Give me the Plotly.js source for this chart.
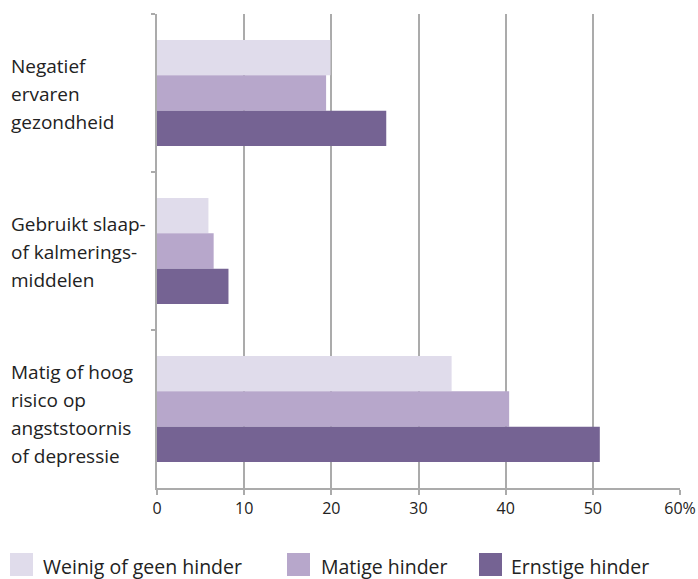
<!DOCTYPE html>
<html><head><meta charset="utf-8">
<script src="https://cdn.plot.ly/plotly-3.0.1.min.js"></script>
<style>html,body{margin:0;padding:0;background:#fff}#chart{width:698px;height:579px}</style>
</head><body><div id="chart"></div>
<script>
const categories = ["Negatief<br>ervaren<br>gezondheid", "Gebruikt slaap-<br>of kalmerings-<br>middelen", "Matig of hoog<br>risico op<br>angststoornis<br>of depressie"];
const seriesNames = ["Weinig of geen hinder", "Matige hinder", "Ernstige hinder"];
const weinig = [19.9, 5.9, 33.8];
const matig = [19.4, 6.5, 40.4];
const ernstig = [26.3, 8.2, 50.8];
const xTickVals = [0, 10, 20, 30, 40, 50, 60];
const xTickText = ["0", "10", "20", "30", "40", "50", "60%"];

const colors = ["#E0DCEB", "#B7A7CB", "#756393"];
const FONT = "Open Sans, DejaVu Sans, sans-serif";
const W = 698, H = 579;
const L = 157, R = 18, T = 14, B = 91;
const pw = W - L - R, ph = H - T - B;
const px = v => (v - L) / pw;
const py = v => (H - B - v) / ph;

const values = [weinig, matig, ernstig];
const traces = values.map((vals, k) => ({
  type: "bar", orientation: "h",
  x: vals, y: categories,
  name: seriesNames[k],
  marker: {color: colors[k], line: {width: 0}},
  showlegend: false, hoverinfo: "x"
}));

const annotations = [];
categories.forEach((lab, i) => {
  const lines = lab.split("<br>");
  const n = lines.length;
  lines.forEach((ln, j) => {
    annotations.push({
      xref: "paper", yref: "y", x: px(9), y: lab, xanchor: "left", yanchor: "middle",
      text: ln, showarrow: false, align: "left",
      yshift: -(j - (n - 1) / 2) * 28 - (n > 3 ? 4 : 0) - 1,
      font: {family: FONT, size: 19, color: "#222"}
    });
  });
});

const legendPos = [[10, 41], [287, 319], [479, 509]];
const shapes = [];
seriesNames.forEach((nm, k) => {
  const [sx, tx] = legendPos[k];
  shapes.push({type: "rect", xref: "paper", yref: "paper",
    x0: px(sx), x1: px(sx + 23), y0: py(576), y1: py(553),
    fillcolor: colors[k], line: {width: 0}});
  annotations.push({xref: "paper", yref: "paper", x: px(tx), y: py(566),
    xanchor: "left", yanchor: "middle", text: nm, showarrow: false,
    font: {family: FONT, size: 19.5, color: "#222"}});
});

const layout = {
  width: W, height: H,
  margin: {l: L, r: R, t: T, b: B, pad: 0},
  paper_bgcolor: "#fff", plot_bgcolor: "#fff",
  barmode: "group", bargap: 0.33, bargroupgap: 0,
  showlegend: false,
  xaxis: {
    range: [0, 60], tickvals: xTickVals, ticktext: xTickText,
    showgrid: true, gridcolor: "#ABABAB", gridwidth: 2,
    zeroline: false, showline: true, linecolor: "#ABABAB", linewidth: 2,
    ticks: "outside", ticklen: 5, tickwidth: 2, tickcolor: "#ABABAB",
    tickfont: {family: FONT, size: 16, color: "#222"}, fixedrange: true
  },
  yaxis: {
    type: "category", autorange: "reversed", tickson: "boundaries",
    showticklabels: false, showgrid: false, zeroline: false,
    showline: true, linecolor: "#ABABAB", linewidth: 2,
    ticks: "outside", ticklen: 4, tickwidth: 2, tickcolor: "#ABABAB", fixedrange: true
  },
  annotations: annotations, shapes: shapes
};
Plotly.newPlot("chart", traces, layout, {displayModeBar: false, staticPlot: true});
</script></body></html>
